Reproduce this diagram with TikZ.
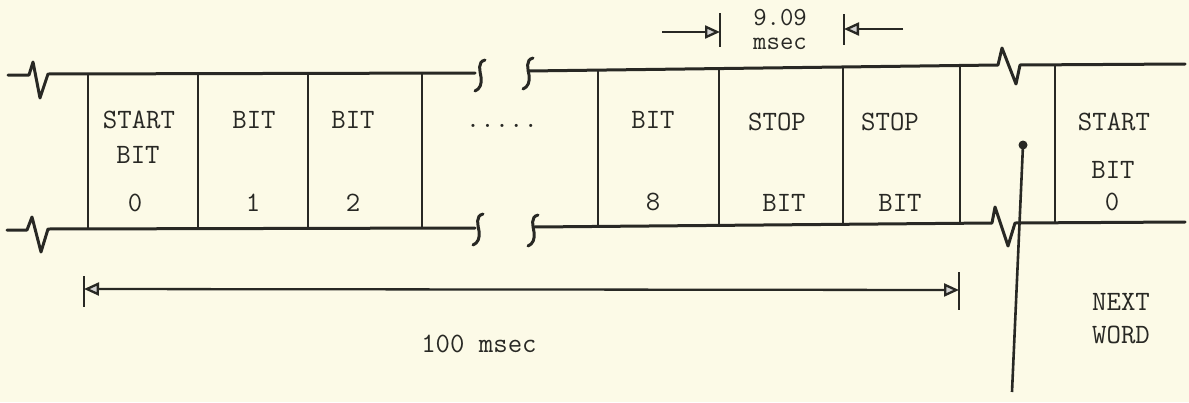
\documentclass[tikz,border=0pt]{standalone}
\usepackage{fontspec}
\usepackage{xcolor}
\usetikzlibrary{arrows.meta}
\definecolor{paper}{RGB}{252,250,231}
\definecolor{ink}{RGB}{40,40,36}
% little S-shaped break mark of a wire
\newcommand{\squig}[2]{\draw[brk] (#1+5,#2-14) .. controls (#1-3,#2-12) and (#1,#2-3) .. (#1+1,#2+3) .. controls (#1+2,#2+10) and (#1,#2+15) .. (#1-5,#2+17);}

\begin{document}
\begin{tikzpicture}[x=1pt, y=-1pt,
    lbl/.style={font=\fontsize{28}{30}\selectfont\ttfamily, text=ink, inner sep=0pt},
    wire/.style={draw=ink, line width=3pt, line join=round, line cap=round},
    sep/.style={draw=ink, line width=2.8pt},
    dim/.style={draw=ink, line width=2.3pt},
    tip/.style={-{Triangle[length=15pt, width=13pt, fill=gray!35]}},
    brk/.style={draw=ink, line width=3pt, line cap=round},
]
\fill[paper] (0,0) rectangle (1189,402);
\useasboundingbox (0,0) rectangle (1189,402);

% wires with break marks
\draw[wire] (8,75) -- (29,75) -- (33,62) -- (40,98) -- (48,74) -- (475,73);
\draw[wire] (7,230) -- (27,230) -- (32,217) -- (41,252) -- (48,229) -- (475,228);
\draw[wire] (528,71) -- (998,65) -- (1002,48) -- (1016,84) -- (1020,65) -- (1185,64);
\draw[wire] (534,227) -- (992,223) -- (995,207) -- (1008,246) -- (1015,223) -- (1185,222);
\squig{480}{74} \squig{528}{72}
\squig{478}{228} \squig{533}{229}

% cell walls
\foreach \x in {88,198,308,422} \draw[sep] (\x,74) -- (\x,229);
\draw[sep] (598,70) -- (598,226);
\draw[sep] (719,69) -- (719,225);
\draw[sep] (843,67) -- (843,224);
\draw[sep] (960,66) -- (960,223);
\draw[sep] (1055,65) -- (1055,222);

% cell texts
\node[lbl] (start0) at (139,120) {START};
\node[lbl] (bit0)   at (138,155) {BIT};
\node[lbl] (num0)   at (135,203) {0};
\node[lbl] (bit1)   at (254,120) {BIT};
\node[lbl] (num1)   at (253,203) {1};
\node[lbl] (bit2)   at (353,120) {BIT};
\node[lbl] (num2)   at (353,203) {2};
\node[lbl] (dots)   at (502,126) {.....};
\node[lbl] (bit8)   at (653,120) {BIT};
\node[lbl] (num8)   at (653,202) {8};
\node[lbl] (stopa)  at (777,122) {STOP};
\node[lbl] (stopab) at (784,203) {BIT};
\node[lbl] (stopb)  at (890,122) {STOP};
\node[lbl] (stopbb) at (900,203) {BIT};
\node[lbl] (startn) at (1114,122) {START};
\node[lbl] (bitn)   at (1113,170) {BIT};
\node[lbl] (numn)   at (1112,202) {0};
\node[lbl] (next)   at (1121,302) {NEXT};
\node[lbl] (word)   at (1121,335) {WORD};

% word length
\coordinate (wl) at (84,289);
\coordinate (wr) at (959,290);
\draw[dim] (84,276) -- (84,307);
\draw[dim] (959,272) -- (959,310);
\draw[dim, {Triangle[length=15pt, width=13pt, fill=gray!35]}-{Triangle[length=15pt, width=13pt, fill=gray!35]}] (wl) -- (wr);
\node[lbl] (len100) at (479,344) {100 msec};

% bit length
\coordinate (bl) at (662,32);
\coordinate (blt) at (720,32);
\coordinate (br) at (903,29);
\coordinate (brt) at (844,29);
\draw[dim] (720,13) -- (720,47);
\draw[dim] (844,14) -- (844,45);
\draw[dim, tip] (bl) -- (blt);
\draw[dim, tip] (br) -- (brt);
\node[lbl, align=center, font=\fontsize{26}{24}\selectfont\ttfamily] (len9) at (780,29) {9.09\\msec};

% pointer to next word
\coordinate (ptop) at (1023,145);
\coordinate (pbot) at (1012,392);
\draw[dim, line width=2.6pt] (ptop) -- (pbot);
\fill[ink] (ptop) circle (4.5pt);
\end{tikzpicture}
\end{document}
